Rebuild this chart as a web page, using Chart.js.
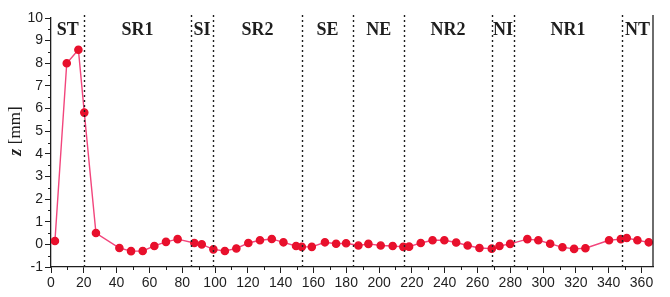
<!DOCTYPE html>
<html>
<head>
<meta charset="utf-8">
<script src="https://cdn.jsdelivr.net/npm/chart.js@4.4.1/dist/chart.umd.min.js"></script>
<style>
  html, body { margin: 0; padding: 0; background: #fff; }
  #wrap { width: 670px; height: 297px; }
</style>
</head>
<body>
<div id="wrap"><canvas id="profile" width="670" height="297"></canvas></div>
<script>
// measuring positions along the profile and z deviation in mm
const positions = [2.4, 9.6, 16.7, 20.3, 27.4, 41.7, 48.8, 55.9, 63, 70.1,
  77.2, 87.4, 91.9, 99, 106, 113, 120.3, 127.4, 134.6, 141.7,
  149.4, 152.9, 159, 167, 173.8, 179.9, 187.4, 193.5, 201, 208.3,
  214.8, 218.3, 225.4, 232.6, 239.8, 247, 254, 261.2, 268.7, 273.4,
  279.9, 290.4, 297.1, 304.3, 311.8, 318.9, 325.8, 340.2, 347.4, 351,
  357.5, 364.4];
const zValues = [0.15, 8.0, 8.6, 5.82, 0.5, -0.16, -0.3, -0.29, -0.07, 0.11,
  0.23, 0.06, 0.0, -0.22, -0.29, -0.18, 0.06, 0.18, 0.24, 0.09,
  -0.07, -0.11, -0.11, 0.09, 0.03, 0.05, -0.05, 0.02, -0.05, -0.07,
  -0.11, -0.1, 0.06, 0.18, 0.18, 0.08, -0.05, -0.16, -0.19, -0.07,
  0.02, 0.23, 0.18, 0.03, -0.13, -0.2, -0.17, 0.18, 0.23, 0.28,
  0.18, 0.09];

// zone boundaries (dotted lines) and zone names
const boundaries = [20.3, 85.2, 99, 152.9, 184.3, 215.2, 268.7, 282.3, 348];
const zones = ['ST', 'SR1', 'SI', 'SR2', 'SE', 'NE', 'NR2', 'NI', 'NR1', 'NT'];

// axis tick labels
const xTicks = [0, 20, 40, 60, 80, 100, 120, 140, 160, 180, 200, 220, 240, 260, 280, 300, 320, 340, 360];

const X_MIN = 0, X_MAX = 367;
const Y_MIN = -1, Y_MAX = 10;
const ink = '#1e1e1e';

const zonePlugin = {
  id: 'zones',
  afterDatasetsDraw(chart) {
    const { ctx, chartArea, scales } = chart;
    const xs = scales.x, ys = scales.y;
    ctx.save();

    // right frame line
    ctx.strokeStyle = ink;
    ctx.lineWidth = 1.3;
    ctx.beginPath();
    ctx.moveTo(chartArea.right, chartArea.top - 3);
    ctx.lineTo(chartArea.right, chartArea.bottom);
    ctx.stroke();

    // dotted boundaries
    ctx.lineWidth = 1.4;
    ctx.setLineDash([2, 3]);
    boundaries.forEach(b => {
      const px = Math.round(xs.getPixelForValue(b)) + 0.5;
      ctx.beginPath();
      ctx.moveTo(px, chartArea.top - 3);
      ctx.lineTo(px, chartArea.bottom);
      ctx.stroke();
    });
    ctx.setLineDash([]);

    // zone labels centred between boundaries
    const edges = [X_MIN, ...boundaries, X_MAX];
    ctx.fillStyle = ink;
    ctx.font = 'bold 18px "Liberation Serif"';
    ctx.textAlign = 'center';
    ctx.textBaseline = 'middle';
    zones.forEach((name, i) => {
      const mid = (edges[i] + edges[i + 1]) / 2;
      ctx.fillText(name, xs.getPixelForValue(mid), chartArea.top + 12);
    });

    // minor ticks
    ctx.lineWidth = 1;
    ctx.beginPath();
    for (let v = Y_MIN + 0.5; v < Y_MAX; v += 1) {
      const py = Math.round(ys.getPixelForValue(v)) + 0.5;
      ctx.moveTo(chartArea.left - 3, py);
      ctx.lineTo(chartArea.left, py);
    }
    for (let v = 10; v < X_MAX; v += 20) {
      const px = Math.round(xs.getPixelForValue(v)) + 0.5;
      ctx.moveTo(px, chartArea.bottom);
      ctx.lineTo(px, chartArea.bottom + 3);
    }
    ctx.stroke();

    // y axis title: italic z, then [mm]
    ctx.translate(16, 131);
    ctx.rotate(-Math.PI / 2);
    ctx.textAlign = 'left';
    const zFont = 'italic bold 18px "Liberation Serif"';
    const unitFont = '17px "Liberation Serif"';
    ctx.font = zFont;
    const zw = ctx.measureText('z ').width;
    ctx.font = unitFont;
    const uw = ctx.measureText('[mm]').width;
    const start = -(zw + uw) / 2;
    ctx.font = zFont;
    ctx.fillText('z', start, 0);
    ctx.font = unitFont;
    ctx.fillText('[mm]', start + zw, 0);
    ctx.restore();
  }
};

new Chart(document.getElementById('profile'), {
  type: 'line',
  data: {
    datasets: [{
      data: positions.map((p, i) => ({ x: p, y: zValues[i] })),
      borderColor: '#f2457c',
      borderWidth: 1.4,
      pointBackgroundColor: '#e8102c',
      pointBorderColor: '#e8102c',
      pointRadius: 3.6,
      tension: 0,
    }],
  },
  options: {
    responsive: false,
    animation: false,
    events: [],
    layout: { padding: { top: 18, right: 17, left: 0, bottom: 0 } },
    plugins: { legend: { display: false }, tooltip: { enabled: false } },
    scales: {
      x: {
        type: 'linear',
        min: X_MIN,
        max: X_MAX,
        afterBuildTicks: axis => {
          axis.ticks = xTicks.map(v => ({ value: v }));
        },
        afterFit: axis => { axis.height = 30; },
        ticks: {
          color: ink,
          padding: 2,
          maxRotation: 0,
          autoSkip: false,
          font: { family: '"Liberation Sans"', size: 14 },
        },
        grid: { drawOnChartArea: false, tickLength: 6, color: ink },
        border: { color: ink, width: 1.3 },
      },
      y: {
        min: Y_MIN,
        max: Y_MAX,
        afterFit: axis => { axis.width = 51; },
        ticks: {
          stepSize: 1,
          color: ink,
          padding: 2,
          font: { family: '"Liberation Sans"', size: 14 },
        },
        grid: { drawOnChartArea: false, tickLength: 6, color: ink },
        border: { color: ink, width: 1.3 },
      },
    },
  },
  plugins: [zonePlugin],
});
</script>
</body>
</html>
